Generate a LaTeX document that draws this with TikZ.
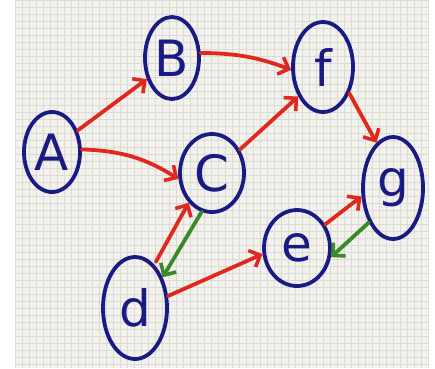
\documentclass[tikz,border=0pt]{standalone}
\usepackage{fontspec}
\setmainfont{DejaVu Sans}
\usetikzlibrary{arrows.meta,shapes.geometric}
\definecolor{ink}{HTML}{1A1A85}
\definecolor{redink}{HTML}{E0281F}
\definecolor{greenink}{HTML}{3A8A2A}
\definecolor{paper}{HTML}{F3F1EC}
\definecolor{gridc}{HTML}{DCDAD6}
\begin{document}
\begin{tikzpicture}[x=1pt,y=-1pt,
  vtx/.style={draw=ink,line width=3.8pt,ellipse,text=ink,inner sep=0pt,
    font=\fontsize{50}{50}\selectfont},
  redarrow/.style={draw=redink,line width=3.8pt,line cap=round,
    -{Straight Barb[length=9pt,width=18pt,line width=3.6pt]}},
  greenarrow/.style={draw=greenink,line width=3.8pt,line cap=round,
    -{Straight Barb[length=9pt,width=18pt,line width=3.6pt]}}]
\useasboundingbox (0,0) rectangle (435,368);
\fill[white] (0,0) rectangle (435,368);
\fill[paper] (15,0) rectangle (428,368);
\foreach \gx in {15,22,...,428} \draw[gridc,line width=0.4pt] (\gx,0) -- (\gx,368);
\foreach \gy in {0,7,...,368} \draw[gridc,line width=0.4pt] (15,\gy) -- (428,\gy);
% nodes
\node[vtx,minimum width=56pt,minimum height=80pt] (A) at (52,152) {A};
\node[vtx,minimum width=54pt,minimum height=82pt] (B) at (172,58) {B};
\node[vtx,minimum width=60pt,minimum height=90pt] (f) at (323,67) {f};
\node[vtx,minimum width=64pt,minimum height=78pt] (C) at (212,173) {C};
\node[vtx,minimum width=60pt,minimum height=102pt] (g) at (393,188) {g};
\node[vtx,minimum width=66pt,minimum height=76pt] (e) at (297,248) {e};
\node[vtx,minimum width=64pt,minimum height=102pt] (d) at (135,308) {d};
% edges
\draw[redarrow] (A.40) -- (B.220);
\draw[redarrow] (A.5) to[bend left=15] (C.190);
\draw[redarrow] (B.10) to[bend left=10] (f.185);
\draw[redarrow] (C.40) -- (f.230);
\draw[redarrow] (f.-45) -- (g.110);
\draw[redarrow,shorten <=3pt] (d.66) -- (C.232);
\draw[greenarrow] (C.-105) -- (d.48);
\draw[redarrow] (d.20) -- (e.190);
\draw[redarrow] (e.40) -- (g.195);
\draw[greenarrow] (g.235) -- (e.-15);
\end{tikzpicture}
\end{document}
